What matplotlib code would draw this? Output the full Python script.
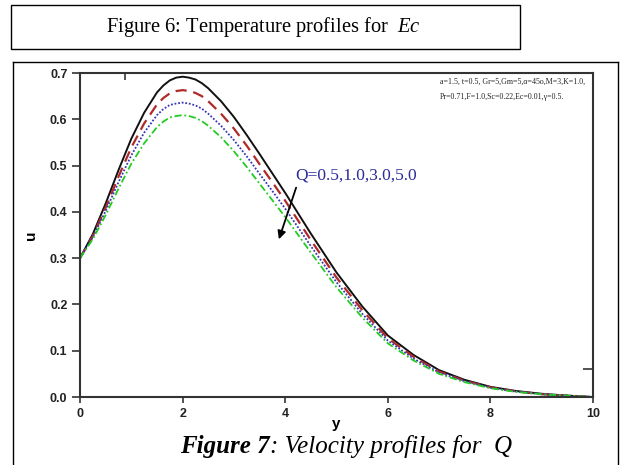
import matplotlib
matplotlib.use("Agg")
import matplotlib.pyplot as plt
from matplotlib.patches import Rectangle
from matplotlib.lines import Line2D

plt.rcParams["mathtext.fontset"] = "custom"
plt.rcParams["mathtext.rm"] = "Liberation Serif"
plt.rcParams["mathtext.it"] = "Liberation Serif:italic"

# ---- data ----
y_vals = [0, 0.25, 0.5, 0.75, 1.0, 1.25, 1.5, 1.625, 1.75, 1.875, 2.0, 2.125, 2.25,
          2.375, 2.5, 2.75, 3.0, 3.25, 3.5, 3.75, 4.0, 4.5, 5.0, 5.5, 6.0, 6.5,
          7.0, 7.5, 8.0, 8.5, 9.0, 9.5, 10.0]
u_q05 = [0.300, 0.352, 0.418, 0.490, 0.558, 0.614, 0.658, 0.673, 0.684, 0.690,
         0.692, 0.690, 0.686, 0.678, 0.667, 0.639, 0.605, 0.566, 0.525, 0.483,
         0.441, 0.353, 0.269, 0.196, 0.133, 0.091, 0.058, 0.037, 0.022, 0.013,
         0.007, 0.003, 0.000]
u_q10 = [0.300, 0.348, 0.409, 0.476, 0.539, 0.591, 0.632, 0.646, 0.656, 0.661,
         0.663, 0.661, 0.657, 0.650, 0.639, 0.612, 0.580, 0.543, 0.503, 0.464,
         0.424, 0.339, 0.258, 0.188, 0.127, 0.087, 0.055, 0.035, 0.021, 0.012,
         0.006, 0.003, 0.000]
u_q30 = [0.300, 0.345, 0.402, 0.464, 0.522, 0.571, 0.609, 0.622, 0.631, 0.634,
         0.636, 0.634, 0.630, 0.623, 0.612, 0.586, 0.555, 0.520, 0.482, 0.445,
         0.407, 0.326, 0.248, 0.180, 0.122, 0.083, 0.053, 0.034, 0.020, 0.012,
         0.006, 0.003, 0.000]
u_q50 = [0.300, 0.341, 0.393, 0.450, 0.504, 0.548, 0.583, 0.595, 0.604, 0.607,
         0.609, 0.607, 0.603, 0.596, 0.586, 0.561, 0.531, 0.497, 0.461, 0.425,
         0.389, 0.312, 0.237, 0.172, 0.116, 0.079, 0.050, 0.032, 0.019, 0.011,
         0.006, 0.003, 0.000]
x_ticks = [0, 2, 4, 6, 8, 10]
y_ticks = [0.0, 0.1, 0.2, 0.3, 0.4, 0.5, 0.6, 0.7]
y_tick_labels = ["0.0", "0.1", "0.2", "0.3", "0.4", "0.5", "0.6", "0.7"]

W, H = 621, 465
fig = plt.figure(figsize=(W / 100, H / 100), dpi=100)

def fx(px):
    return px / W

def fy(py):
    return 1 - py / H

# top caption box
fig.patches.append(Rectangle((fx(11), fy(49)), fx(509), 44 / H, transform=fig.transFigure,
                             fill=False, edgecolor="black", linewidth=1.0))
fig.text(fx(263), fy(27), "Figure 6: Temperature profiles for  $Ec$",
         family="Liberation Serif", fontsize=14.8, ha="center", va="center")

# frame of second figure (open at bottom)
for xs, ys in [((13, 13), (62, 465)), ((13, 618), (62, 62)), ((618, 618), (62, 465))]:
    fig.lines.append(Line2D([fx(xs[0]), fx(xs[1])], [fy(ys[0]), fy(ys[1])],
                            transform=fig.transFigure, color="black", linewidth=1.0))

ax = fig.add_axes([fx(80), fy(397), (593 - 80) / W, (397 - 73) / H])
ax.plot(y_vals, u_q05, color="#111111", lw=1.4, ls="-")
ax.plot(y_vals, u_q10, color="#b02a2a", lw=1.6, ls=(0, (5, 3)))
ax.plot(y_vals, u_q30, color="#3535b5", lw=1.3, ls=(0, (1, 1)))
ax.plot(y_vals, u_q50, color="#22cc22", lw=1.3, ls=(0, (4, 1.5, 1, 1.5)))

ax.set_xlim(0, 10)
ax.set_ylim(0, 0.7)
ax.set_xticks(x_ticks)
ax.set_xticklabels([str(t) for t in x_ticks])
ax.set_yticks(y_ticks)
ax.set_yticklabels(y_tick_labels)
for lab in ax.get_xticklabels() + ax.get_yticklabels():
    lab.set_family("Liberation Sans")
    lab.set_fontweight("bold")
    lab.set_fontsize(9)
    lab.set_color("#222222")
ax.tick_params(axis="y", direction="out", length=6, width=1.2, pad=3, color="#333333")
ax.tick_params(axis="x", direction="out", length=4, width=1.2, pad=4, color="#333333")
for s in ax.spines.values():
    s.set_linewidth(1.5)
    s.set_color("#333333")

# stray marks on top and right spines
ax_top = ax.secondary_xaxis("top")
ax_top.set_xticks([0.88])
ax_top.set_xticklabels([""])
ax_top.tick_params(direction="in", length=5, width=1.2, color="#333333")
ax_top.spines["top"].set_visible(False)
ax_r = ax.secondary_yaxis("right")
ax_r.set_yticks([0.06])
ax_r.set_yticklabels([""])
ax_r.tick_params(direction="in", length=7, width=1.2, color="#333333")
ax_r.spines["right"].set_visible(False)

ax.set_xlabel("y", family="Liberation Sans", fontweight="bold", fontsize=11)
ax.set_ylabel("u", family="Liberation Sans", fontweight="bold", fontsize=11)
ax.xaxis.set_label_coords(0.5, -0.062)
ax.yaxis.set_label_coords(-0.082, 0.5)

ax.text(7.02, 0.680, "a=1.5, t=0.5, Gr=5,Gm=5,\u03b1=45o,M=3,K=1.0,",
        family="Liberation Serif", fontsize=5.7, ha="left", va="center", color="#222222")
ax.text(7.02, 0.648, "Pr=0.71,F=1.0,Sc=0.22,Ec=0.01,\u03b3=0.5.",
        family="Liberation Serif", fontsize=5.7, ha="left", va="center", color="#222222")
ax.text(4.19, 0.479, "Q=0.5,1.0,3.0,5.0", family="Liberation Serif", fontsize=12.5,
        ha="left", va="center", color="#2b2b9b")
ax.annotate("", xy=(3.86, 0.335), xytext=(4.23, 0.458),
            arrowprops=dict(arrowstyle="-|>", color="black", lw=1.3, mutation_scale=12))

# bottom caption with mixed styles
fig.canvas.draw()
r = fig.canvas.get_renderer()
t1 = fig.text(fx(180), fy(446), "Figure 7", family="Liberation Serif", style="italic",
              fontweight="bold", fontsize=18, ha="left", va="center")
bb = t1.get_window_extent(renderer=r)
fig.text(bb.x1 / W, fy(446), ": Velocity profiles for  Q", family="Liberation Serif",
         style="italic", fontsize=18, ha="left", va="center")

fig.savefig("out.png", dpi=100)
